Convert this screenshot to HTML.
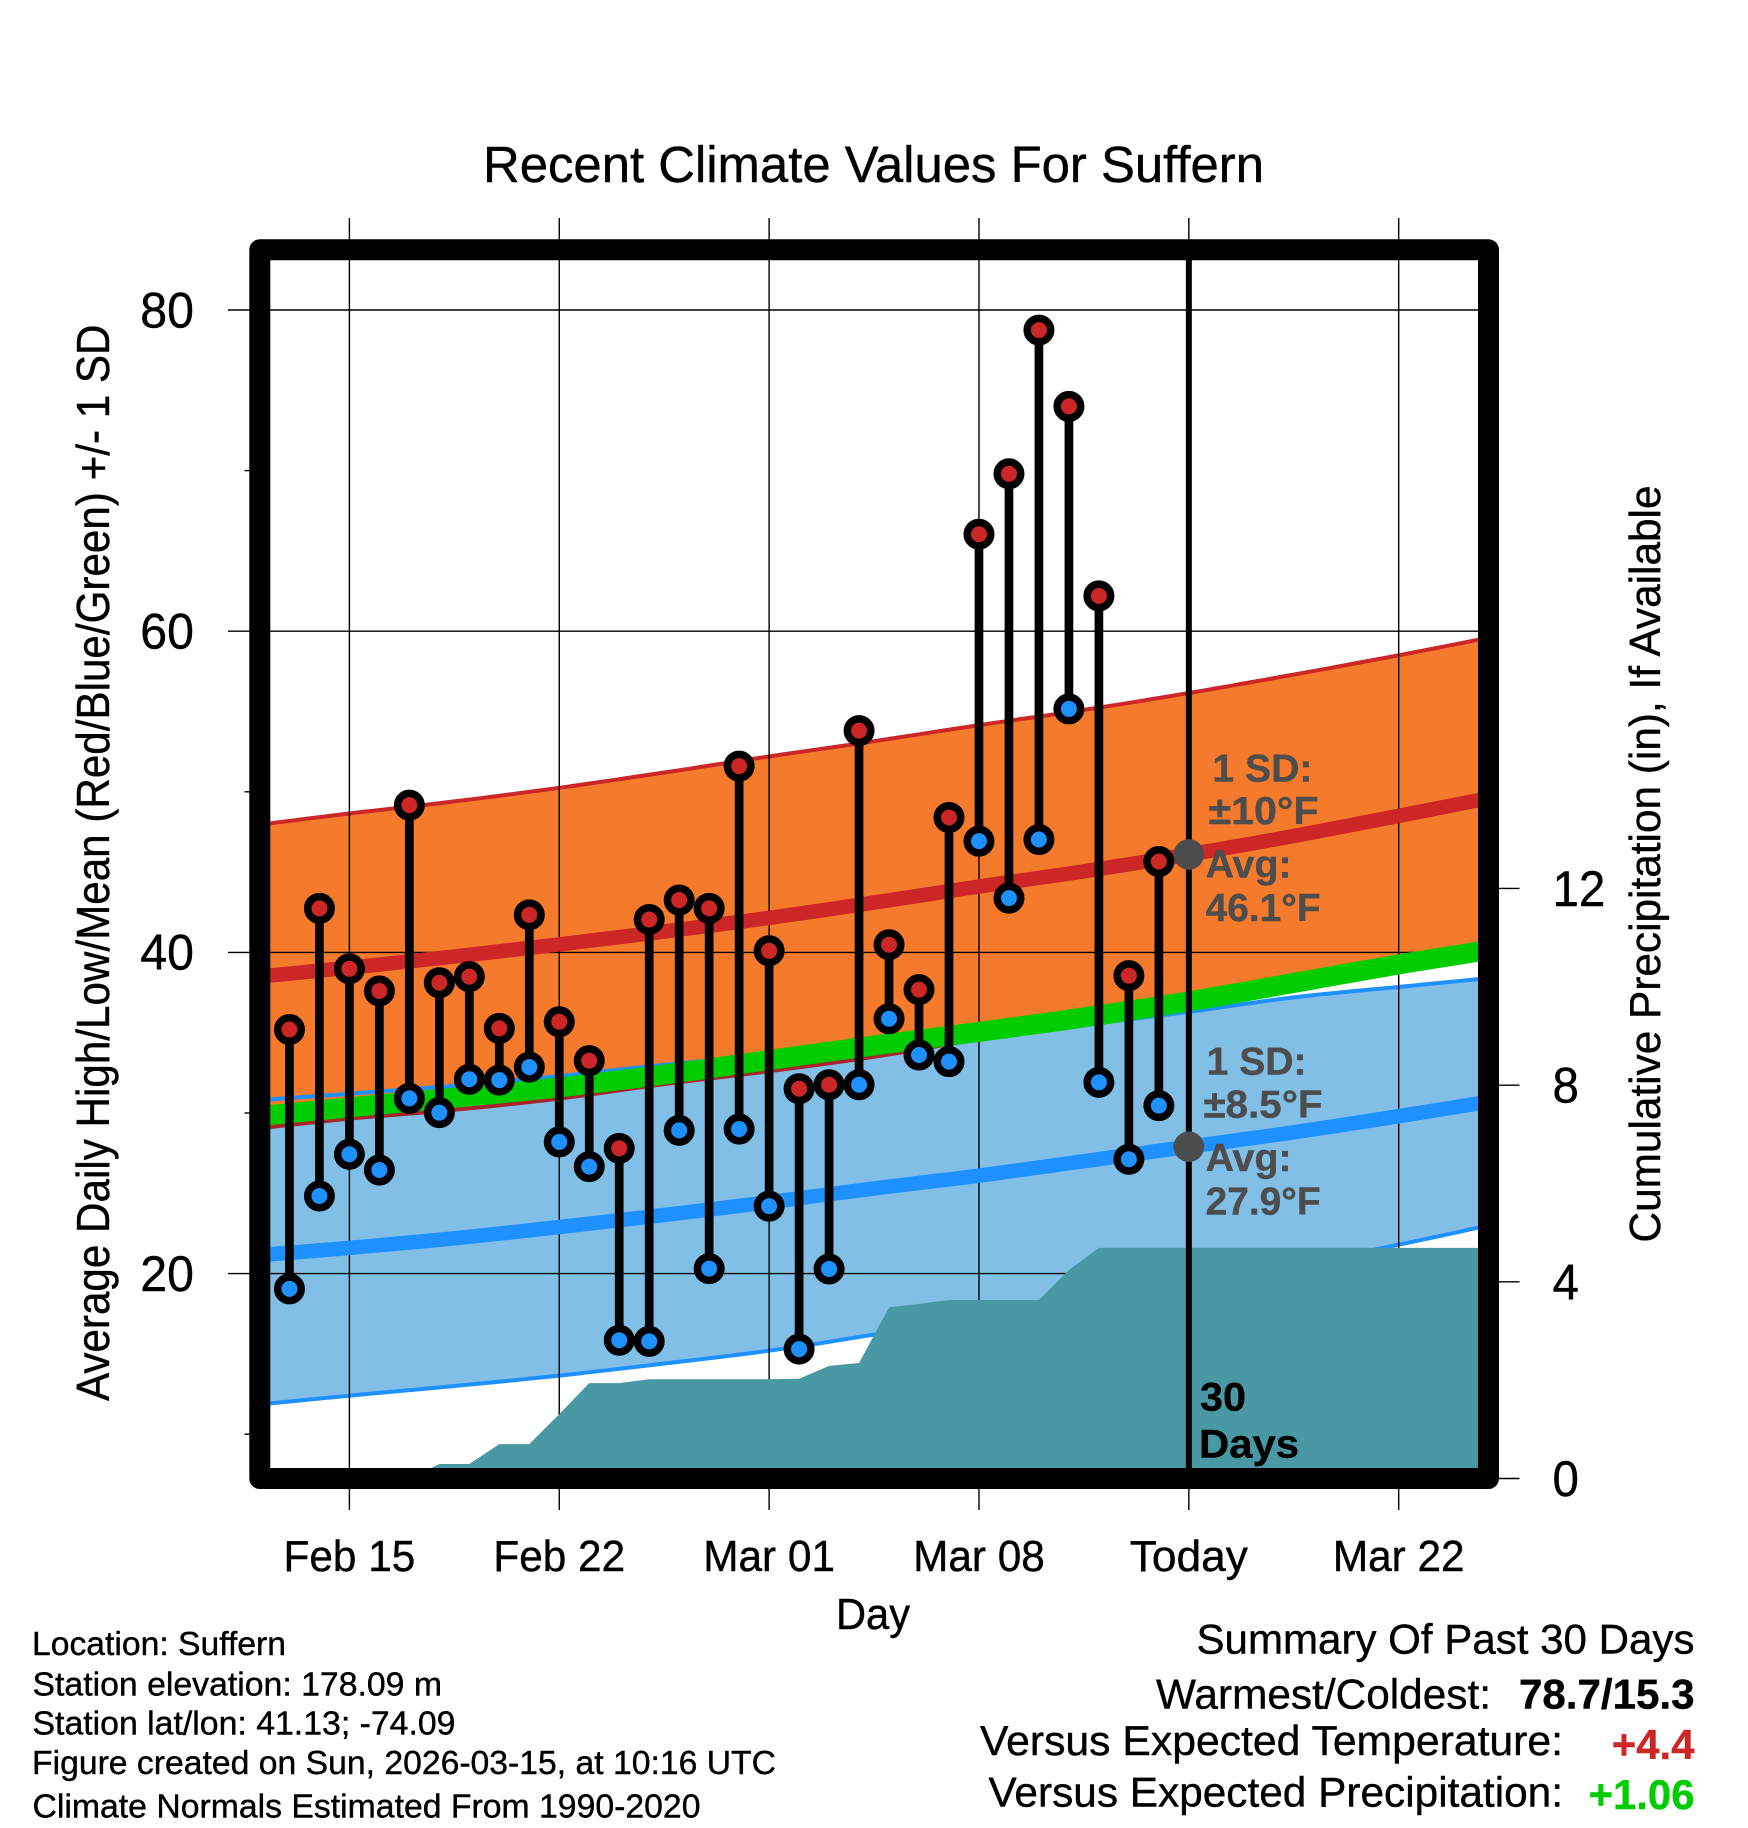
<!DOCTYPE html>
<html lang="en">
<head>
<meta charset="utf-8">
<title>Recent Climate Values For Suffern</title>
<style>
html,body{margin:0;padding:0;background:#fff;}
body{width:1748px;height:1828px;overflow:hidden;}
svg{display:block;}
text{font-family:"Liberation Sans",sans-serif;fill:#000;stroke:#000;stroke-width:0.4px;}
.note{font-weight:bold;fill:#4d4d4d;stroke:#4d4d4d;font-size:39px;}
.foot{font-size:33px;}
.sum{font-size:42px;}
</style>
</head>
<body>
<svg id="chart" xmlns="http://www.w3.org/2000/svg" width="1748" height="1828" viewBox="0 0 1748 1828">
  <defs>
    <clipPath id="plot-clip"><rect x="270" y="260" width="1208" height="1208"/></clipPath>
  </defs>
  <rect x="0" y="0" width="1748" height="1828" fill="#fff"/>
  <g id="bands" clip-path="url(#plot-clip)"></g>
  <g id="marks"></g>
  <g id="axes"></g>
  <rect x="259.8" y="249.8" width="1228.7" height="1228.7" fill="none" stroke="#000" stroke-width="21" stroke-linejoin="round"/>

  <text x="483" y="182" font-size="51" textLength="781" lengthAdjust="spacingAndGlyphs">Recent Climate Values For Suffern</text>
  <text x="836" y="1629" font-size="44" textLength="74" lengthAdjust="spacingAndGlyphs">Day</text>
  <text transform="translate(109,1401) rotate(-90)" font-size="46" textLength="1076.5" lengthAdjust="spacingAndGlyphs">Average Daily High/Low/Mean (Red/Blue/Green) +/- 1 SD</text>
  <text transform="translate(1660,1242.5) rotate(-90)" font-size="44" textLength="757" lengthAdjust="spacingAndGlyphs">Cumulative Precipitation (in), If Available</text>

  <text class="note" x="1212.4" y="781.3" textLength="100" lengthAdjust="spacingAndGlyphs">1 SD:</text>
  <text class="note" x="1208.5" y="824" textLength="110" lengthAdjust="spacingAndGlyphs">±10°F</text>
  <text class="note" x="1205.6" y="877.7" textLength="86" lengthAdjust="spacingAndGlyphs">Avg:</text>
  <text class="note" x="1205.6" y="921" textLength="115" lengthAdjust="spacingAndGlyphs">46.1°F</text>
  <text class="note" x="1206.6" y="1074.5" textLength="100" lengthAdjust="spacingAndGlyphs">1 SD:</text>
  <text class="note" x="1203.5" y="1117.7" textLength="119" lengthAdjust="spacingAndGlyphs">±8.5°F</text>
  <text class="note" x="1205.6" y="1171" textLength="86" lengthAdjust="spacingAndGlyphs">Avg:</text>
  <text class="note" x="1205.6" y="1214.5" textLength="115" lengthAdjust="spacingAndGlyphs">27.9°F</text>

  <text x="1200" y="1410.7" font-size="40" font-weight="bold" textLength="46" lengthAdjust="spacingAndGlyphs">30</text>
  <text x="1199" y="1457.3" font-size="40" font-weight="bold" textLength="100" lengthAdjust="spacingAndGlyphs">Days</text>

  <text class="foot" x="32" y="1654.8" textLength="254" lengthAdjust="spacingAndGlyphs">Location: Suffern</text>
  <text class="foot" x="32.5" y="1695.6" textLength="409.5" lengthAdjust="spacingAndGlyphs">Station elevation: 178.09 m</text>
  <text class="foot" x="32.5" y="1734.4" textLength="423" lengthAdjust="spacingAndGlyphs">Station lat/lon: 41.13; -74.09</text>
  <text class="foot" x="32" y="1773.8" textLength="744" lengthAdjust="spacingAndGlyphs">Figure created on Sun, 2026-03-15, at 10:16 UTC</text>
  <text class="foot" x="32.5" y="1817.5" textLength="668" lengthAdjust="spacingAndGlyphs">Climate Normals Estimated From 1990-2020</text>

  <text class="sum" x="1196.5" y="1653.5" textLength="498" lengthAdjust="spacingAndGlyphs">Summary Of Past 30 Days</text>
  <text class="sum" x="1156" y="1708.3" textLength="335" lengthAdjust="spacingAndGlyphs">Warmest/Coldest:</text>
  <text class="sum" x="1519" y="1708.3" font-weight="bold" textLength="175.5" lengthAdjust="spacingAndGlyphs">78.7/15.3</text>
  <text class="sum" x="980" y="1755" textLength="583" lengthAdjust="spacingAndGlyphs">Versus Expected Temperature:</text>
  <text class="sum" x="1611.8" y="1759.2" font-weight="bold" style="fill:#cd2626;stroke:#cd2626" textLength="82.7" lengthAdjust="spacingAndGlyphs">+4.4</text>
  <text class="sum" x="988.5" y="1806.5" textLength="574.5" lengthAdjust="spacingAndGlyphs">Versus Expected Precipitation:</text>
  <text class="sum" x="1588.6" y="1809" font-weight="bold" style="fill:#00cd00;stroke:#00cd00" textLength="105.9" lengthAdjust="spacingAndGlyphs">+1.06</text>
</svg>
<script>
// Day number 0 = Feb 15
const obsDays = [-2,-1,0,1,2,3,4,5,6,7,8,9,10,11,12,13,14,15,16,17,18,19,20,21,22,23,24,25,26,27];
const obsHigh = [35.2,42.74,38.98,37.6,49.17,38.11,38.49,35.27,42.34,35.68,33.26,27.8,42.05,43.26,42.74,51.6,40.1,31.51,31.76,53.81,40.48,37.68,48.4,66.04,69.8,78.75,74.0,62.2,38.55,45.66];
const obsLow = [19.05,24.83,27.43,26.45,30.91,30.02,32.1,32.05,32.86,28.2,26.66,15.85,15.78,28.92,20.31,29.0,24.2,15.3,20.29,31.76,35.87,33.61,33.2,46.93,43.38,47.03,55.16,31.91,27.12,30.46];

const normalDays = [-3,0,3.5,7,10.5,14,17.5,21,24.5,28,31.5,35,38];
const highMean = [38.5,39.05,39.75,40.5,41.3,42.15,43.1,44.1,45.05,46.1,47.25,48.5,49.6];
const highUpper = [47.95,48.65,49.4,50.25,51.2,52.2,53.15,54.15,55.1,56.15,57.3,58.5,59.6];
const highLower = [29.05,29.65,30.2,30.9,31.8,32.6,33.5,34.6,35.6,36.65,37.8,38.95,39.85];
const overallMean = [29.8,30.35,30.95,31.6,32.4,33.3,34.2,35.05,35.95,36.95,38.1,39.25,40.15];
const lowMean = [21.15,21.6,22.2,22.9,23.65,24.45,25.3,26.1,27.0,27.9,28.8,29.8,30.7];
const lowUpper = [30.8,31.2,31.7,32.3,33.0,33.6,34.2,34.8,35.5,36.3,37.2,37.85,38.4];
const lowLower = [11.85,12.4,13.0,13.65,14.4,15.2,16.2,17.3,18.35,19.4,20.5,21.8,23.0];

const precipDays = [-3,-2,-1,0,1,2,3,4,5,6,7,8,9,10,11,12,13,14,15,16,17,18,19,20,21,22,23,24,25,26,27,38];
const precipValues = [0,0,0,0,0,0,0.295,0.295,0.7,0.7,1.31,1.94,1.94,2.02,2.02,2.02,2.02,2.02,2.03,2.29,2.35,3.48,3.55,3.63,3.63,3.63,3.63,4.24,4.69,4.69,4.69,4.69];

const xTickDays = [0,7,14,21,28,35];
const xTickLabels = ['Feb 15','Feb 22','Mar 01','Mar 08','Today','Mar 22'];
const yMajorTicks = [20,40,60,80];
const yMinorTicks = [10,30,50,70];
const precipTicks = [0,4,8,12];

const todayDay = 28;
const todayAvgHigh = 46.1;
const todayAvgLow = 27.9;

const SVGNS = 'http://www.w3.org/2000/svg';
function xScale(d){ return 349.4 + 29.98 * d; }
function yScale(t){ return 310 + (80 - t) * 16.06; }
function pScale(p){ return 1478.5 - 49.17 * p; }
function make(tag, parent, attrs){
  const el = document.createElementNS(SVGNS, tag);
  for (const k in attrs) el.setAttribute(k, attrs[k]);
  parent.appendChild(el);
  return el;
}
// smooth Catmull-Rom rendering through the values
function linePoints(days, vals){
  const pts = [];
  const n = days.length;
  for (let i = 0; i < n - 1; i++) {
    const p0x = xScale(days[Math.max(i - 1, 0)]), p0y = yScale(vals[Math.max(i - 1, 0)]);
    const p1x = xScale(days[i]), p1y = yScale(vals[i]);
    const p2x = xScale(days[i + 1]), p2y = yScale(vals[i + 1]);
    const p3x = xScale(days[Math.min(i + 2, n - 1)]), p3y = yScale(vals[Math.min(i + 2, n - 1)]);
    for (let s = 0; s < 8; s++) {
      const u = s / 8, u2 = u * u, u3 = u2 * u;
      const x = 0.5 * (2 * p1x + (p2x - p0x) * u + (2 * p0x - 5 * p1x + 4 * p2x - p3x) * u2 + (3 * p1x - p0x - 3 * p2x + p3x) * u3);
      const y = 0.5 * (2 * p1y + (p2y - p0y) * u + (2 * p0y - 5 * p1y + 4 * p2y - p3y) * u2 + (3 * p1y - p0y - 3 * p2y + p3y) * u3);
      pts.push(x.toFixed(1) + ',' + y.toFixed(1));
    }
  }
  pts.push(xScale(days[n - 1]).toFixed(1) + ',' + yScale(vals[n - 1]).toFixed(1));
  return pts;
}
function bandPoints(days, upper, lower){
  return linePoints(days, upper).concat(linePoints(days, lower).reverse()).join(' ');
}

const bands = document.getElementById('bands');
const marks = document.getElementById('marks');
const axes = document.getElementById('axes');
let el;

el = make('polygon', bands, {points: bandPoints(normalDays, lowUpper, lowLower), fill: '#82bfe6'});


el = make('polygon', bands, {points: bandPoints(normalDays, highUpper, highLower), fill: '#f67a2c'});



el = make('polyline', bands, {points: linePoints(normalDays, lowUpper).join(' '), fill: 'none', stroke: '#1e90ff', 'stroke-width': 4});


el = make('polyline', bands, {points: linePoints(normalDays, lowLower).join(' '), fill: 'none', stroke: '#1e90ff', 'stroke-width': 4});


el = make('polyline', bands, {points: linePoints(normalDays, highUpper).join(' '), fill: 'none', stroke: '#cd2626', 'stroke-width': 4});


el = make('polyline', bands, {points: linePoints(normalDays, highLower).join(' '), fill: 'none', stroke: '#a8242c', 'stroke-width': 4});



// grid lines and ticks
xTickDays.forEach(function(d, i){
  const x = xScale(d);
  const line = make('line', bands, {x1: x, x2: x, y1: 250, y2: 1480, stroke: '#000', 'stroke-width': 1.4});
  
  
  const topTick = make('line', axes, {x1: x, x2: x, y1: 218, y2: 240, stroke: '#000', 'stroke-width': 1.4});
  
  
  const botTick = make('line', axes, {x1: x, x2: x, y1: 1488, y2: 1510, stroke: '#000', 'stroke-width': 1.4});
  
  
  const hScale = xTickLabels[i] === 'Today' ? 1.018 : 0.973;
  const label = make('text', axes, {transform: 'translate(' + x + ',1571) scale(' + hScale + ',1)', 'text-anchor': 'middle', 'font-size': 43.5});
  
  
  label.textContent = xTickLabels[i];
});
yMajorTicks.forEach(function(t){
  const y = yScale(t);
  const line = make('line', bands, {x1: 260, x2: 1490, y1: y, y2: y, stroke: '#000', 'stroke-width': 1.4});
  
  
  const tick = make('line', axes, {x1: 228, x2: 251, y1: y, y2: y, stroke: '#000', 'stroke-width': 1.4});
  
  
  const label = make('text', axes, {transform: 'translate(140.3,' + (y + 17.3) + ') scale(0.965,1)', 'font-size': 50});
  
  
  label.textContent = String(t);
});
yMinorTicks.forEach(function(t){
  const tick = make('line', axes, {x1: 244.5, x2: 251, y1: yScale(t), y2: yScale(t), stroke: '#000', 'stroke-width': 1.4});
  
  
});
precipTicks.forEach(function(p){
  const y = pScale(p);
  const tick = make('line', axes, {x1: 1498, x2: 1519.5, y1: y, y2: y, stroke: '#000', 'stroke-width': 1.4});
  
  
  const label = make('text', axes, {transform: 'translate(1552.5,' + (y + 17.5) + ') scale(0.95,1)', 'font-size': 50});
  
  
  label.textContent = String(p);
});

// mean lines
el = make('polyline', bands, {points: linePoints(normalDays, overallMean).join(' '), fill: 'none', stroke: '#00cd00', 'stroke-width': 20});


el = make('polyline', bands, {points: linePoints(normalDays, highMean).join(' '), fill: 'none', stroke: '#cd2626', 'stroke-width': 14.5});


el = make('polyline', bands, {points: linePoints(normalDays, lowMean).join(' '), fill: 'none', stroke: '#1e90ff', 'stroke-width': 14.5});



// precipitation area
const precipPts = precipDays.map(function(d, i){ return xScale(d).toFixed(1) + ',' + pScale(precipValues[i]).toFixed(1); });
precipPts.push(xScale(precipDays[precipDays.length - 1]).toFixed(1) + ',' + pScale(0).toFixed(1));
precipPts.push(xScale(precipDays[0]).toFixed(1) + ',' + pScale(0).toFixed(1));
el = make('polygon', bands, {points: precipPts.join(' '), fill: '#4899a3'});



// daily stems and dots
obsDays.forEach(function(d, i){
  const x = xScale(d);
  const stem = make('line', marks, {x1: x, x2: x, y1: yScale(obsHigh[i]), y2: yScale(obsLow[i]), stroke: '#000', 'stroke-width': 8.7});
  
  
});
obsDays.forEach(function(d, i){
  const x = xScale(d);
  const low = make('circle', marks, {cx: x, cy: yScale(obsLow[i]), r: 11.75, fill: '#1e90ff', stroke: '#000', 'stroke-width': 7.5});
  
  
  const high = make('circle', marks, {cx: x, cy: yScale(obsHigh[i]), r: 11.75, fill: '#cd2626', stroke: '#000', 'stroke-width': 7.5});
  
  
});

// today marker
el = make('line', marks, {x1: xScale(todayDay), x2: xScale(todayDay), y1: 250, y2: 1480, stroke: '#000', 'stroke-width': 6});


el = make('circle', marks, {cx: xScale(todayDay), cy: yScale(todayAvgHigh), r: 15.3, fill: '#4d4d4d'});


el = make('circle', marks, {cx: xScale(todayDay), cy: yScale(todayAvgLow), r: 15.3, fill: '#4d4d4d'});


</script>
</body>
</html>
